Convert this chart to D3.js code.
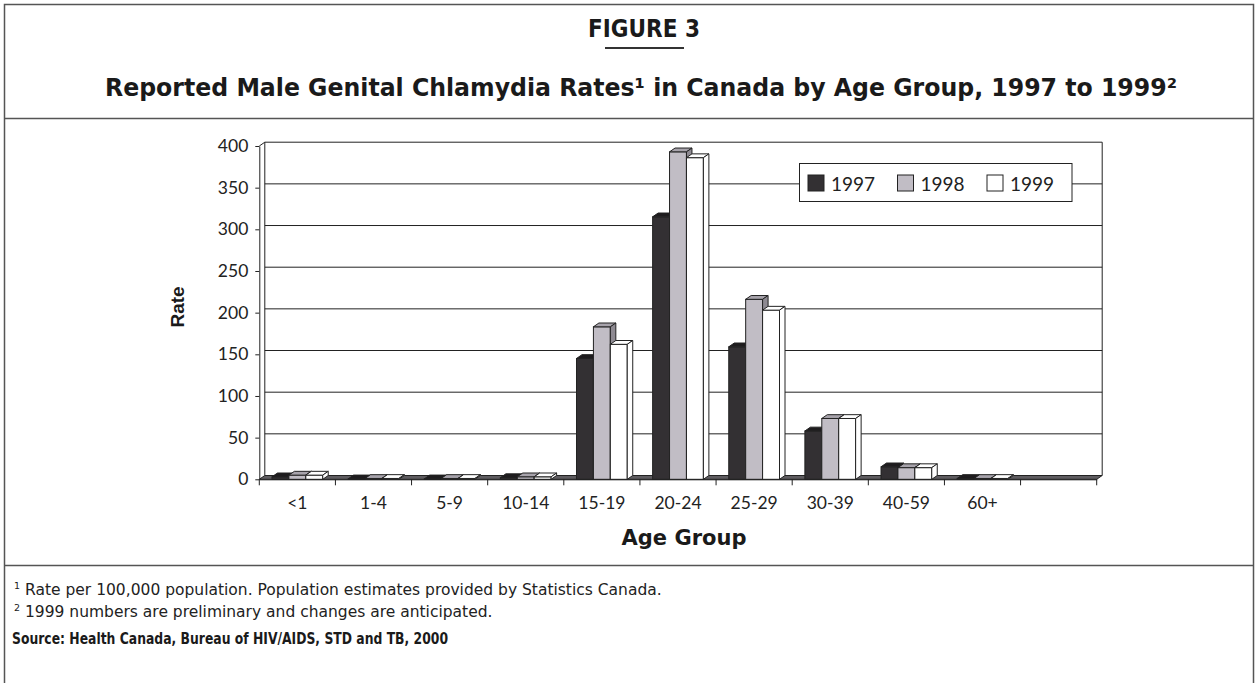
<!DOCTYPE html>
<html><head><meta charset="utf-8">
<script src="https://cdn.jsdelivr.net/npm/d3@7"></script>
<style>
body{margin:0;background:#fff}
svg{display:block}
</style>
</head><body>
<script>
// ---- data ----
const categories = ["<1","1-4","5-9","10-14","15-19","20-24","25-29","30-39","40-59","60+",""];
const years = ["1997","1998","1999"];
const rates1997 = [3, 0.5, 0.5, 2, 145, 315, 159, 58, 15, 1, null];
const rates1998 = [5, 1, 1, 3, 183, 393, 216, 73, 14, 1, null];
const rates1999 = [5, 1, 1, 3, 162, 386, 203, 73, 14, 1, null];
const yTicks = [0, 50, 100, 150, 200, 250, 300, 350, 400];
const titleText = "FIGURE 3";
const subtitleText = "Reported Male Genital Chlamydia Rates\u00b9 in Canada by Age Group, 1997 to 1999\u00b2";
const yTitle = "Rate";
const xTitle = "Age Group";
const footnotes = ["Rate per 100,000 population. Population estimates provided by Statistics Canada.",
                   "1999 numbers are preliminary and changes are anticipated."];
const sourceText = "Source: Health Canada, Bureau of HIV/AIDS, STD and TB, 2000";

const seriesValues = [rates1997, rates1998, rates1999];
const front = ["#333033", "#c1bdc5", "#ffffff"];
const topC  = ["#1e1c1e", "#a7a3ab", "#ffffff"];
const sideC = ["#141214", "#8e8a92", "#ffffff"];

const W = 1257, H = 683;
const svg = d3.select("body").append("svg").attr("width", W).attr("height", H);

// frame
const frameColor = "#555";
svg.append("path").attr("d", `M4.5,${H} V4.5 H1253.5 V${H}`).attr("fill","none").attr("stroke",frameColor).attr("stroke-width",1.5);
svg.append("line").attr("x1",4.5).attr("x2",1253.5).attr("y1",118.5).attr("y2",118.5).attr("stroke",frameColor).attr("stroke-width",1.5);
svg.append("line").attr("x1",4.5).attr("x2",1253.5).attr("y1",565.5).attr("y2",565.5).attr("stroke",frameColor).attr("stroke-width",1.5);

// titles
const boldCond = "'DejaVu Sans Condensed','DejaVu Sans',sans-serif";
svg.append("text").attr("x",644).attr("y",37).attr("text-anchor","middle")
  .style("font-family",boldCond).style("font-stretch","condensed").style("font-weight","bold").style("font-size","24px").attr("fill","#1a1a1a").text(titleText);
svg.append("line").attr("x1",605).attr("x2",684).attr("y1",48).attr("y2",48).attr("stroke","#333").attr("stroke-width",2);
svg.append("text").attr("x",641).attr("y",96).attr("text-anchor","middle")
  .attr("textLength",1072).attr("lengthAdjust","spacingAndGlyphs")
  .style("font-family",boldCond).style("font-stretch","condensed").style("font-weight","bold").style("font-size","25px").attr("fill","#1a1a1a").text(subtitleText);

// scales
const X0 = 259.3, X1 = 1096.7;
const x = d3.scaleBand().domain(categories).range([X0, X1]).padding(0);
const xi = d3.scaleBand().domain(years).range([0, x.bandwidth()]).paddingInner(0).paddingOuter(0.75);
const y = d3.scaleLinear().domain([0, 400]).range([479.3, 146]);
const DX = 5.5, DY = 3.8;
const ink = "#222";

const g = svg.append("g");

// back wall gridlines
g.selectAll("line.grid").data(yTicks.filter(v => v > 0)).join("line")
  .attr("x1", X0 + DX).attr("x2", X1 + DX)
  .attr("y1", d => y(d) - DY).attr("y2", d => y(d) - DY)
  .attr("stroke", ink).attr("stroke-width", 1);
// wall edges
g.append("line").attr("x1", X0 + DX).attr("x2", X0 + DX).attr("y1", y(400) - DY).attr("y2", y(0) - DY).attr("stroke", ink);
g.append("line").attr("x1", X1 + DX).attr("x2", X1 + DX).attr("y1", y(400) - DY).attr("y2", y(0) - DY).attr("stroke", ink);
g.append("line").attr("x1", X0).attr("x2", X0 + DX).attr("y1", y(400)).attr("y2", y(400) - DY).attr("stroke", ink);

// floor
g.append("path")
  .attr("d", `M${X0},${y(0)} L${X1},${y(0)} L${X1 + DX},${y(0) - DY} L${X0 + DX},${y(0) - DY} Z`)
  .attr("fill", "#5e5c60").attr("stroke", ink).attr("stroke-width", 1);

// bars
categories.forEach((c, ci) => {
  years.forEach((yr, si) => {
    const v = seriesValues[si][ci];
    if (v == null) return;
    const bx = x(c) + xi(yr), bw = xi.bandwidth();
    const yt = y(v), yb = y(0);
    const bar = g.append("g");
    bar.append("rect").attr("x", bx).attr("y", yt).attr("width", bw).attr("height", Math.max(0, yb - yt))
      .attr("fill", front[si]).attr("stroke", ink).attr("stroke-width", 1);
    bar.append("path").attr("d", `M${bx},${yt} L${bx + DX},${yt - DY} L${bx + bw + DX},${yt - DY} L${bx + bw},${yt} Z`)
      .attr("fill", topC[si]).attr("stroke", ink).attr("stroke-width", 1).attr("stroke-linejoin","round");
    bar.append("path").attr("d", `M${bx + bw},${yt} L${bx + bw + DX},${yt - DY} L${bx + bw + DX},${yb - DY} L${bx + bw},${yb} Z`)
      .attr("fill", sideC[si]).attr("stroke", ink).attr("stroke-width", 1).attr("stroke-linejoin","round");
  });
});

// y axis
const tickFont = "Lato, 'Open Sans', sans-serif";
const yAxis = g.append("g").attr("transform", `translate(${X0},0)`)
  .call(d3.axisLeft(y).tickValues(yTicks).tickSize(4).tickSizeOuter(0).tickPadding(7));
yAxis.selectAll("path,line").attr("stroke", ink);
yAxis.selectAll("text").style("font-family", tickFont).style("font-size", "17.5px").attr("fill", "#222");

// x axis
const xAxis = g.append("g").attr("transform", `translate(0,${y(0)})`)
  .call(d3.axisBottom(x).tickSize(0).tickSizeOuter(0).tickPadding(17));
xAxis.selectAll("path").attr("stroke", ink);
xAxis.selectAll("text").style("font-family", tickFont).style("font-size", "17.5px").attr("fill", "#222");
const boundaries = categories.map(c => x(c)).concat([X1]);
g.selectAll("line.xt").data(boundaries).join("line")
  .attr("x1", d => d).attr("x2", d => d).attr("y1", y(0)).attr("y2", y(0) + 6).attr("stroke", ink);

// axis titles
svg.append("text").attr("transform", "translate(184,307) rotate(-90)").attr("text-anchor", "middle")
  .style("font-family", "'Liberation Sans', Arial, sans-serif").style("font-weight", "bold").style("font-size", "19px").attr("fill", "#1a1a1a").text(yTitle);
svg.append("text").attr("x", 684).attr("y", 545).attr("text-anchor", "middle")
  .style("font-family", "'DejaVu Sans', sans-serif").style("font-weight", "bold").style("font-size", "21px").attr("fill", "#1a1a1a").text(xTitle);

// legend
const leg = svg.append("g");
leg.append("rect").attr("x", 799.5).attr("y", 163.5).attr("width", 272.5).attr("height", 38)
  .attr("fill", "#fff").attr("stroke", ink);
const legX = d3.scalePoint().domain(years).range([808, 987]);
years.forEach((yr, si) => {
  leg.append("rect").attr("x", legX(yr)).attr("y", 175).attr("width", 16).attr("height", 16)
    .attr("fill", front[si]).attr("stroke", ink);
  leg.append("text").attr("x", legX(yr) + 23).attr("y", 190.5)
    .style("font-family", tickFont).style("font-size", "19px").attr("fill", "#222").text(yr);
});

// footnotes
const noteFont = "'DejaVu Sans', 'Open Sans', sans-serif";
footnotes.forEach((t, i) => {
  svg.append("text").attr("x", 14).attr("y", 589 + i * 22)
    .style("font-family", noteFont).style("font-size", "9.5px").attr("fill", "#222").text(String(i + 1));
  svg.append("text").attr("x", 25).attr("y", 595 + i * 22)
    .style("font-family", noteFont).style("font-size", "15.5px").attr("fill", "#222").text(t);
});
svg.append("text").attr("x", 12).attr("y", 644)
  .attr("textLength", 436).attr("lengthAdjust", "spacingAndGlyphs")
  .style("font-family", boldCond).style("font-stretch","condensed").style("font-weight", "bold").style("font-size", "15px").attr("fill", "#1a1a1a").text(sourceText);
</script>
</body></html>
